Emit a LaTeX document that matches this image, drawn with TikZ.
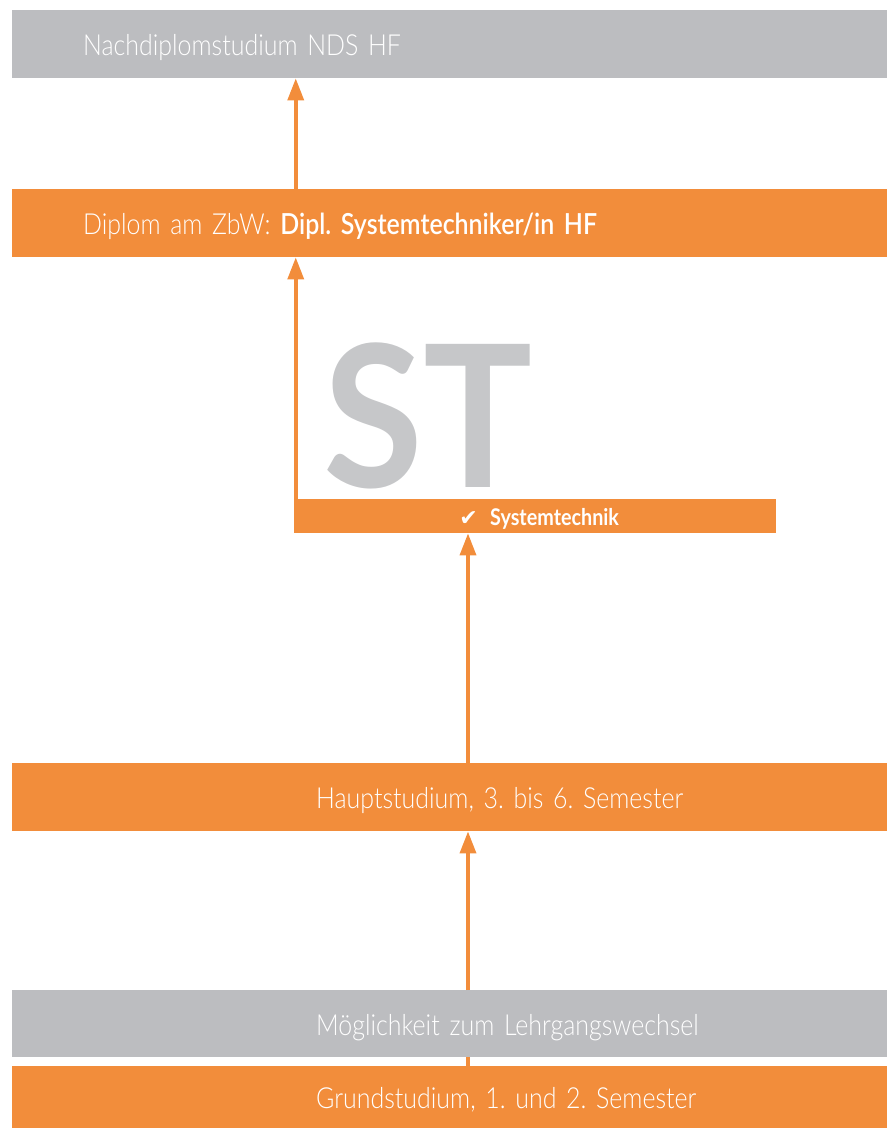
\documentclass[tikz,border=0pt]{standalone}
\usepackage{fontspec}
\setmainfont{Lato}[FakeStretch=0.86]
\newfontfamily\lightf{Lato Light}[FakeStretch=0.86]
\newfontfamily\stf{Lato}[FakeStretch=0.92]
\newfontfamily\symf{DejaVu Sans}
\usetikzlibrary{arrows.meta}
\definecolor{zorange}{HTML}{F28D3B}
\definecolor{zgray}{HTML}{BCBDC0}
\definecolor{zlettr}{HTML}{C6C7C9}
\frenchspacing
\begin{document}
\begin{tikzpicture}[x=1pt,y=-1pt,
  bar/.style={anchor=north west,minimum width=875pt,text width=875pt,align=left,inner sep=0pt,text height=23pt,text depth=0pt,text=white,font=\lightf\fontsize{29}{32}\selectfont},
  graybar/.style={bar,fill=zgray},
  orangebar/.style={bar,fill=zorange},
  conn/.style={draw=zorange,line width=3.5pt,-{Triangle[width=16pt,length=22pt]}}]
\useasboundingbox (0,0) rectangle (887,1128);
\node[graybar,minimum height=68pt] (nds) at (12,10) {\hspace*{71pt}Nachdiplomstudium NDS HF};
\node[orangebar,minimum height=68pt] (dipl) at (12,189) {\hspace*{71pt}Diplom am ZbW: {\bfseries Dipl. Systemtechniker/in HF}};
\node[anchor=base west,inner sep=0pt,text=zlettr,font=\stf\bfseries\fontsize{198}{200}\selectfont] (st) at (323,487) {ST};
\node[anchor=north west,fill=zorange,minimum width=482pt,minimum height=34pt,inner sep=0pt] (sys) at (294,499) {};
\node[anchor=base east,inner sep=0pt,text=white,font=\symf\fontsize{22}{24}\selectfont] (chk) at (478,525) {✔};
\node[anchor=base west,inner sep=0pt,text=white,font=\bfseries\fontsize{23}{24}\selectfont] (systxt) at (490,525) {Systemtechnik};
\node[orangebar,minimum height=68pt] (haupt) at (12,763) {\hspace*{304pt}Hauptstudium, 3. bis 6. Semester};
\node[graybar,minimum height=67pt] (wechsel) at (12,990) {\hspace*{304pt}Möglichkeit zum Lehrgangswechsel};
\node[orangebar,minimum height=62pt] (grund) at (12,1066) {\hspace*{304pt}Grundstudium, 1. und 2. Semester};
\coordinate (sysl) at (295.75,499);
\coordinate (mx) at (468,0);
\draw[conn] (sysl) -- (sysl |- dipl.south);
\draw[conn] (dipl.north -| sysl) -- (sysl |- nds.south);
\draw[conn] (haupt.north -| mx) -- (mx |- sys.south);
\draw[conn] (wechsel.north -| mx) -- (mx |- haupt.south);
\draw[draw=zorange,line width=3.5pt] (wechsel.south -| mx) -- (mx |- grund.north);
\end{tikzpicture}
\end{document}
